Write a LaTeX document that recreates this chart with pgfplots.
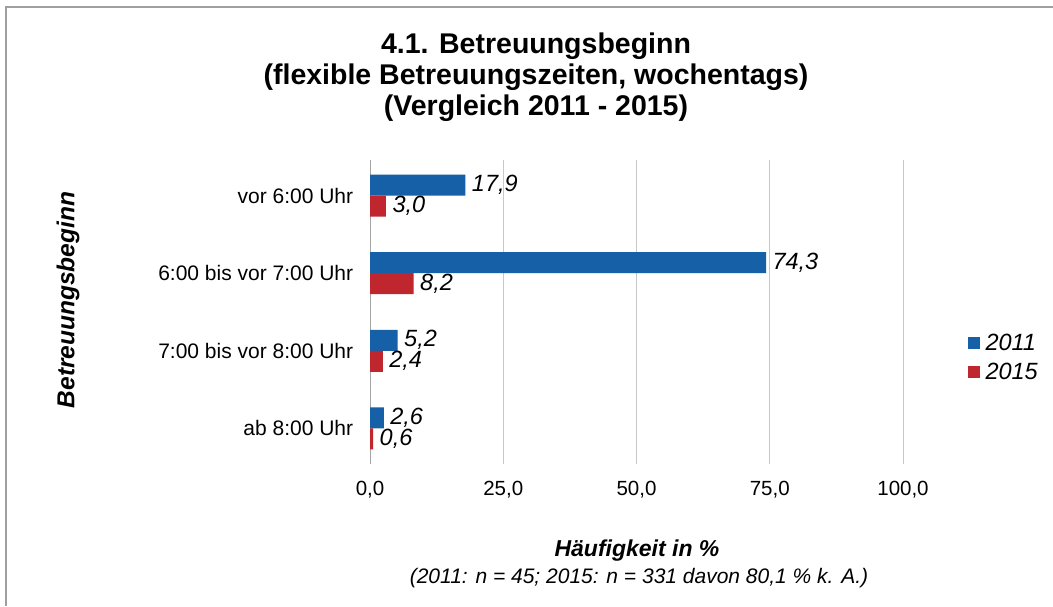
\documentclass[border=0pt]{standalone}
\usepackage{pgfplots}
\pgfplotsset{compat=1.18}
\usepackage{fontspec}
\setmainfont{Liberation Sans}
\definecolor{blau}{RGB}{22,96,168}
\definecolor{rot}{RGB}{192,38,46}
\definecolor{gitter}{RGB}{200,200,200}
\newcommand{\fs}[1]{\fontsize{#1}{#1}\selectfont}

\begin{document}
\begin{tikzpicture}[x=1pt,y=1pt]
\useasboundingbox (0,0) rectangle (1053,606);
% frame (top and left only)
\draw[gray!75, line width=2.2pt] (6,0) -- (6,599) -- (1053,599);

% title
\node[font=\bfseries\fontsize{28.5}{31}\selectfont, align=center] at (536,529)
  {4.1. Betreuungsbeginn\\(flexible Betreuungszeiten, wochentags)\\(Vergleich 2011 - 2015)};

\begin{axis}[
    at={(370pt,142pt)}, anchor=south west,
    scale only axis, width=533pt, height=304pt,
    xbar, bar width=21pt,
    xmin=0, xmax=100,
    ymin=-0.46, ymax=3.46,
    xtick={0,25,50,75,100},
    ytick={0,1,2,3},
    yticklabels={ab 8:00 Uhr, 7:00 bis vor 8:00 Uhr, 6:00 bis vor 7:00 Uhr, vor 6:00 Uhr},
    xticklabel style={font=\fs{20.5}, yshift=-14pt},
    yticklabel style={font=\fs{21}, xshift=-9pt},
    /pgf/number format/.cd, fixed, fixed zerofill, precision=1, use comma, assume math mode=true,
    /pgfplots/.cd,
    xmajorgrids, grid style={gitter, line width=1pt},
    axis line style={draw=none},
    tick style={draw=none},
    nodes near coords={\pgfmathprintnumber[fixed,fixed zerofill,precision=1,use comma,assume math mode=true]{\pgfplotspointmeta}},
    nodes near coords style={font=\itshape\fs{23.5}, anchor=west, xshift=3pt},
    legend style={at={(rel axis cs:1.115,0.35)}, anchor=west, draw=none, fill=none,
                  font=\itshape\fs{23.5}, row sep=7pt},
    legend image code/.code={\fill[#1] (0pt,-6pt) rectangle (12pt,6pt); \path (16pt,0pt);},
    legend cell align=left,
]
\draw[gray!70, line width=1.2pt] (axis cs:0,-0.46) -- (axis cs:0,3.46);
\addplot[fill=blau, draw=none, bar shift=10.5pt] coordinates {(17.9,3) (74.3,2) (5.2,1) (2.6,0)};
\addlegendentry{2011}
\addplot[fill=rot, draw=none, bar shift=-10.5pt] coordinates {(3.0,3) (8.2,2) (2.4,1) (0.6,0)};
\addlegendentry{2015}
\end{axis}

\node[rotate=90, font=\bfseries\itshape\fs{24.5}] at (68,306) {Betreuungsbeginn};
\node[font=\bfseries\itshape\fs{23}] at (637,55) {Häufigkeit in \%};
\node[font=\itshape\fs{21}] at (639,28) {(2011: n = 45; 2015: n = 331 davon 80,1 \% k. A.)};
\end{tikzpicture}
\end{document}
